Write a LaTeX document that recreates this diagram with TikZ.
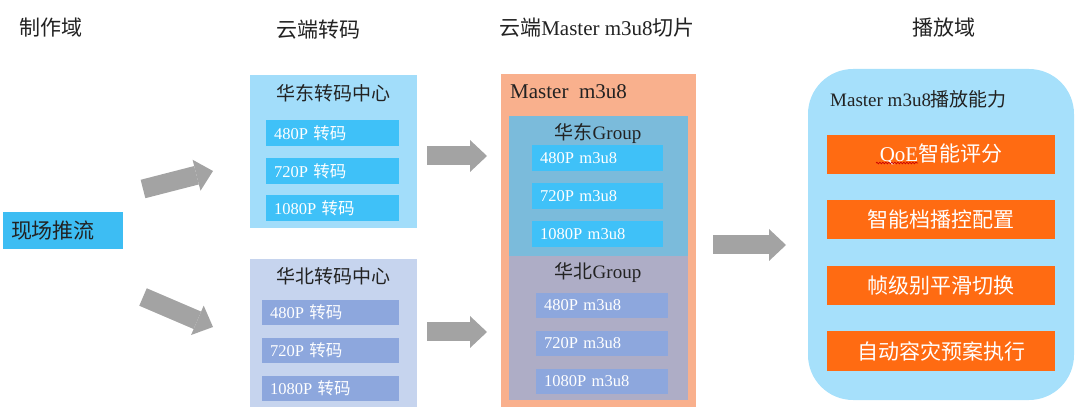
\documentclass[tikz,border=0pt]{standalone}
\usepackage{fontspec}
\setmainfont{Liberation Serif}
\newfontfamily\cjk{Noto Sans CJK SC}
\usepackage{xcolor}
\usetikzlibrary{arrows.meta}
\usetikzlibrary{decorations.pathmorphing}
\definecolor{txt}{HTML}{222222}
\definecolor{pushblue}{HTML}{3DBDF3}
\definecolor{eastbg}{HTML}{A2DDFA}
\definecolor{eastitem}{HTML}{3FC1F8}
\definecolor{northbg}{HTML}{C6D4EE}
\definecolor{northitem}{HTML}{8DA7DD}
\definecolor{masterbg}{HTML}{F9B08D}
\definecolor{egroup}{HTML}{7BBBDB}
\definecolor{ngroup}{HTML}{AEADC6}
\definecolor{playbg}{HTML}{A6E0FB}
\definecolor{playitem}{HTML}{FF6B12}
\definecolor{arrowgray}{HTML}{A3A3A3}
\tikzset{title/.style = {inner sep=0pt, text=txt, font=\fontsize{21}{24}\selectfont}}
\tikzset{panel/.style = {shape=rectangle, inner sep=0pt}}
\tikzset{item/.style = {shape=rectangle, inner xsep=8pt, inner ysep=0pt, align=left, text=white, font=\fontsize{16.5}{18}\selectfont}}
\tikzset{playbox/.style = {shape=rectangle, fill=playitem, minimum width=228pt, minimum height=39pt, inner sep=0pt, text=white, font=\fontsize{21}{24}\selectfont}}
\tikzset{fat/.style = {draw=arrowgray, line width=19pt, -{Triangle[length=17pt,width=32pt,line width=0pt]}}}

\begin{document}
\begin{tikzpicture}[x=1pt,y=-1pt]
                \useasboundingbox (0,0) rectangle (1080,414);

                \node[title] (prodt) at (51,28) {\cjk 制作域};
                \node[title] (transt) at (318,30) {\cjk 云端转码};
                \node[title] (slicet) at (597,28) {{\cjk 云端}Master m3u8{\cjk 切片}};
                \node[title] (playt) at (944,28) {\cjk 播放域};

                \node[panel, fill=pushblue, minimum height=37pt, text width=104pt, inner xsep=8pt, align=left, text=txt, font=\fontsize{21}{24}\selectfont] (push) at (63,230.5) {\cjk 现场推流};

                \node[panel, fill=eastbg, minimum width=167pt, minimum height=153pt] (east) at (333.5,151.5) {};
                \node[title, font=\fontsize{19}{22}\selectfont] (eastname) at (333.5,93) {\cjk 华东转码中心};
                \node[item, fill=eastitem, text width=117pt, minimum height=26pt] (e480) at (332.5,133) {480P {\cjk 转码}};
                \node[item, fill=eastitem, text width=117pt, minimum height=26pt] (e720) at (332.5,171) {720P {\cjk 转码}};
                \node[item, fill=eastitem, text width=117pt, minimum height=26pt] (e1080) at (332.5,208.5) {1080P {\cjk 转码}};

                \node[panel, fill=northbg, minimum width=167pt, minimum height=148pt] (north) at (333.5,333) {};
                \node[title, font=\fontsize{19}{22}\selectfont] (northname) at (333.5,276) {\cjk 华北转码中心};
                \node[item, fill=northitem, text width=121pt, minimum height=25pt] (n480) at (330.5,312.5) {480P {\cjk 转码}};
                \node[item, fill=northitem, text width=121pt, minimum height=25pt] (n720) at (330.5,350.5) {720P {\cjk 转码}};
                \node[item, fill=northitem, text width=121pt, minimum height=25pt] (n1080) at (330.5,388.5) {1080P {\cjk 转码}};

                \node[panel, fill=masterbg, minimum width=195pt, minimum height=333pt] (master) at (598.5,240.5) {};
                \node[title, anchor=west] (mastername) at (510,92) {Master\ \ m3u8};
                \node[panel, fill=egroup, minimum width=179pt, minimum height=140pt] (eg) at (598.5,186) {};
                \node[title, font=\fontsize{19}{22}\selectfont] (egname) at (598,133) {{\cjk 华东}Group};
                \node[item, fill=eastitem, text width=115pt, minimum height=26pt] (eg480) at (597.5,158.5) {480P m3u8};
                \node[item, fill=eastitem, text width=115pt, minimum height=26pt] (eg720) at (597.5,196) {720P m3u8};
                \node[item, fill=eastitem, text width=115pt, minimum height=26pt] (eg1080) at (597.5,234) {1080P m3u8};
                \node[panel, fill=ngroup, minimum width=179pt, minimum height=144pt] (ng) at (598.5,328) {};
                \node[title, font=\fontsize{19}{22}\selectfont] (ngname) at (598,273) {{\cjk 华北}Group};
                \node[item, fill=northitem, text width=116pt, minimum height=25pt] (ng480) at (602,305.5) {480P m3u8};
                \node[item, fill=northitem, text width=116pt, minimum height=25pt] (ng720) at (602,343.5) {720P m3u8};
                \node[item, fill=northitem, text width=116pt, minimum height=25pt] (ng1080) at (602,381) {1080P m3u8};

                \node[panel, fill=playbg, rounded corners=45pt, minimum width=266pt, minimum height=331pt] (play) at (941,234.5) {};
                \node[title, anchor=west, font=\fontsize{19}{22}\selectfont] (playname) at (830,99) {Master m3u8{\cjk 播放能力}};
                \node[playbox] (qoe) at (941,154.5) {QoE{\cjk 智能评分}};
                \node[playbox] (abr) at (941,220) {\cjk 智能档播控配置};
                \node[playbox] (switch) at (941,285.5) {\cjk 帧级别平滑切换};
                \node[playbox] (failover) at (941,351) {\cjk 自动容灾预案执行};
                \draw[red!80!black, line width=0.7pt, decorate, decoration={snake, amplitude=0.8pt, segment length=3pt}] (876,163) -- (918,163);

                \coordinate (pushup) at (143,189);
                \coordinate (eastin) at (213,171);
                \coordinate (pushdown) at (143,297);
                \coordinate (northin) at (213,327);
                \coordinate (eastout) at (427,156);
                \coordinate (egin) at (487,156);
                \coordinate (northout) at (427,332);
                \coordinate (ngin) at (487,332);
                \coordinate (masterout) at (713,245);
                \coordinate (playin) at (786,245);

                \draw[fat] (pushup) -- (eastin);
                \draw[fat] (pushdown) -- (northin);
                \draw[fat] (eastout) -- (egin);
                \draw[fat] (northout) -- (ngin);
                \draw[fat] (masterout) -- (playin);
            \end{tikzpicture}
\end{document}
